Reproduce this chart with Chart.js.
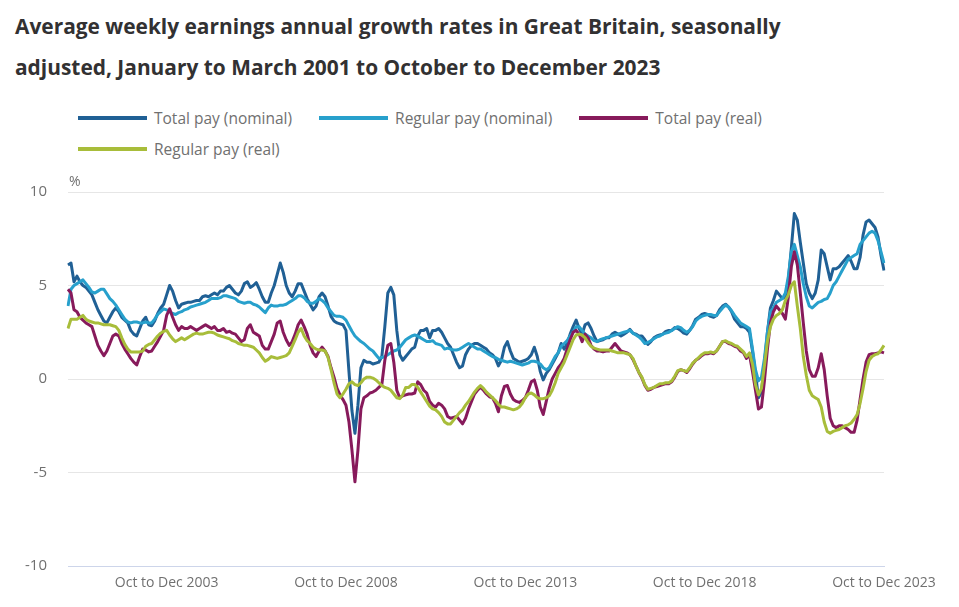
<!DOCTYPE html>
<html>
<head>
<meta charset="utf-8">
<title>Average weekly earnings annual growth rates</title>
<script src="https://cdn.jsdelivr.net/npm/chart.js@4.4.1/dist/chart.umd.min.js"></script>
<style>
    html, body { margin: 0; padding: 0; background: #fff; }
    body { width: 959px; height: 607px; position: relative; overflow: hidden; font-family: "Open Sans", sans-serif; }
    .title { position: absolute; left: 15px; top: 6px; font-size: 20.9px; font-weight: 700; line-height: 41px; color: #323132; white-space: nowrap; }
    .legend { position: absolute; left: 78px; top: 102px; width: 880px; display: flex; flex-wrap: wrap; column-gap: 27px; }
    .legend__item { display: flex; align-items: center; height: 31px; font-size: 15.5px; color: #707070; white-space: nowrap; }
    .legend__swatch { display: inline-block; width: 69px; height: 4px; margin-right: 7px; }
    .chart-box { position: absolute; left: 0; top: 170px; width: 959px; height: 437px; }
</style>
</head>
<body>
<div class="title">Average weekly earnings annual growth rates in Great Britain, seasonally<br>adjusted, January to March 2001 to October to December 2023</div>
<div class="legend" id="legend-container"></div>
<div class="chart-box"><canvas id="line-chart" width="959" height="437"></canvas></div>

<script>
// rolling three-month periods, first one is Jan to Mar 2001
const monthNames = ["Jan", "Feb", "Mar", "Apr", "May", "Jun", "Jul", "Aug", "Sep", "Oct", "Nov", "Dec"];
const firstYear = 2001;
const periodCount = 274;

const tickLabels = ["Oct to Dec 2003", "Oct to Dec 2008", "Oct to Dec 2013", "Oct to Dec 2018", "Oct to Dec 2023"];
const yTicks = [-10, -5, 0, 5, 10];

const seriesNames = ["Total pay (nominal)", "Regular pay (nominal)", "Total pay (real)", "Regular pay (real)"];

const totalNominal = [
    6.1, 6.2, 5.2, 5.5, 5.2, 5.0, 4.9, 4.7, 4.5, 4.1, 3.7, 3.4, 3.1, 3.0, 3.3, 3.6, 3.8, 3.6, 3.3, 3.15, 3.0, 2.6, 2.4, 2.3,
    2.7, 3.1, 3.3, 2.9, 2.85, 3.1, 3.5, 3.8, 4.0, 4.5, 5.0, 4.7, 4.2, 3.8, 4.0, 4.05, 4.1, 4.1, 4.15, 4.2, 4.2, 4.4, 4.45, 4.4,
    4.5, 4.6, 4.5, 4.7, 4.7, 4.9, 5.0, 4.8, 4.6, 4.5, 4.7, 5.1, 5.2, 4.9, 5.0, 5.15, 4.8, 4.4, 4.1, 4.1, 4.6, 5.0, 5.6, 6.2,
    5.7, 5.0, 4.6, 4.4, 4.7,
    5.1, 5.1, 4.7, 4.3, 4.0, 3.7, 3.9, 4.4, 4.6, 4.4, 3.9, 3.35, 3.1, 3.0, 2.95, 2.9, 2.6, 0.4, -1.7, -2.9, -1.4, 0.6, 1.0, 0.9,
    0.9, 0.8, 0.85, 0.9, 1.2, 2.8, 4.6,
    4.9, 4.5, 2.6, 1.3, 1.0, 1.2, 1.4, 1.6, 1.7, 2.3, 2.6, 2.6, 2.7, 2.2, 2.6, 2.6, 2.7, 2.5, 2.2, 1.9, 1.7, 1.3, 0.9, 0.6,
    0.7, 1.3, 1.6, 1.8, 1.9, 1.9,
    1.8, 1.7, 1.6, 1.4, 1.3, 1.1, 0.7, 1.0, 1.7, 2.0, 1.5, 1.1, 1.0, 0.9, 0.95, 1.0, 1.1, 1.3, 1.7, 1.2, 0.4, -0.05, 0.3, 0.5,
    0.8, 1.1, 1.4, 1.9, 1.6, 1.9, 2.4, 2.8, 3.15, 2.7, 2.4, 2.9, 3.0, 2.7, 2.3, 2.0, 2.05, 2.1, 2.2, 2.2, 2.4, 2.5, 2.4, 2.3,
    2.4, 2.5, 2.65, 2.45, 2.4, 2.3,
    2.3, 2.1, 1.85, 2.0, 2.2, 2.3, 2.35, 2.4, 2.55, 2.6, 2.6, 2.75, 2.7, 2.6, 2.45, 2.4, 2.6, 2.85, 3.2, 3.3, 3.45, 3.5, 3.45, 3.35,
    3.3, 3.4, 3.7, 3.9, 4.0, 3.85, 3.6, 3.2, 3.0, 2.8, 2.8, 2.7,
    2.5, 1.5, 0.3, -1.0, -0.7, 0.8, 2.5, 3.8, 4.2, 4.7, 4.5, 4.3, 4.4, 5.3, 7.0, 8.85, 8.5, 7.3, 6.2, 5.1, 4.6, 4.3, 4.6, 5.3,
    6.9, 6.7, 6.0, 5.3, 5.9, 5.9, 6.0, 6.2, 6.4, 6.6, 6.3, 5.9, 5.9, 6.5, 7.7, 8.4, 8.5, 8.3, 8.1, 7.6, 6.6, 5.8
];

const regularNominal = [
    3.9, 4.8, 5.0, 5.1, 5.2, 5.3, 5.1, 4.9, 4.65, 4.6, 4.7, 4.8, 4.8, 4.55, 4.3, 4.15, 3.95, 3.7, 3.45, 3.2, 3.05, 3.0, 3.05, 3.05,
    3.0, 3.0, 3.05, 3.0, 3.0, 3.2, 3.45, 3.6, 3.75, 3.7, 3.6, 3.5, 3.45, 3.55, 3.6, 3.7, 3.75, 3.85, 3.9, 3.95, 4.0, 4.05, 4.1, 4.2,
    4.3, 4.3, 4.3, 4.35, 4.45, 4.45, 4.4, 4.35, 4.3, 4.15, 4.1, 4.05, 4.1, 4.1, 4.0, 3.95, 3.85, 3.7, 3.55, 3.8, 3.95, 3.9, 3.9, 3.95,
    3.95, 4.0, 4.1, 4.2, 4.3,
    4.45, 4.45, 4.35, 4.15, 4.05, 4.05, 4.15, 4.3, 4.2, 4.05, 3.8, 3.6, 3.4, 3.35, 3.35, 3.3, 3.15, 2.85, 2.55, 2.3, 2.15, 2.0, 1.9, 1.75,
    1.6, 1.5, 1.3, 1.1, 1.15, 1.2, 1.3,
    1.4, 1.5, 1.55, 1.7, 1.9, 2.1, 2.2, 2.3, 2.35, 2.3, 2.2, 2.1, 2.0, 2.0, 2.05, 1.9, 1.85, 1.8, 1.6, 1.65, 1.6, 1.55, 1.55, 1.6,
    1.7, 1.8, 1.9, 1.8, 1.7, 1.6,
    1.6, 1.5, 1.4, 1.3, 1.2, 1.15, 1.05, 1.0, 0.95, 0.9, 0.95, 0.9, 0.85, 0.8, 0.75, 0.8, 0.85, 0.95, 0.95, 0.9, 0.8, 0.6, 0.5, 0.6,
    0.9, 1.2, 1.4, 1.75, 1.9, 2.05, 2.3, 2.5, 2.8, 2.8, 2.6, 2.4, 2.3, 2.2, 2.05, 2.0, 2.1, 2.15, 2.2, 2.25, 2.3, 2.35, 2.4, 2.45,
    2.5, 2.55, 2.6, 2.45, 2.35, 2.25,
    2.1, 1.9, 1.95, 2.05, 2.15, 2.25, 2.3, 2.4, 2.45, 2.5, 2.6, 2.7, 2.8, 2.75, 2.6, 2.5, 2.6, 2.8, 3.1, 3.25, 3.35, 3.4, 3.45, 3.45,
    3.4, 3.4, 3.6, 3.8, 3.95, 3.85, 3.65, 3.4, 3.2, 3.0, 2.9, 2.8,
    2.7, 1.6, 0.5, -0.1, 0.1, 1.1, 2.5, 3.6, 3.8, 4.1, 4.2, 4.3, 4.6, 5.5, 6.8, 7.2, 6.6, 6.0, 5.1, 4.4, 3.9, 3.8, 3.95, 4.1,
    4.15, 4.25, 4.3, 4.6, 5.0, 5.2, 5.5, 5.8, 6.1, 6.4, 6.5, 6.6, 6.7, 7.2, 7.4, 7.6, 7.8, 7.9, 7.8, 7.4, 6.8, 6.2
];

const totalReal = [
    4.8, 4.6, 3.7, 3.6, 3.3, 3.15, 3.0, 2.9, 2.8, 2.3, 1.8, 1.5, 1.25, 1.5, 1.9, 2.3, 2.4, 2.3, 1.9, 1.6, 1.35, 1.1, 0.9, 0.75,
    1.2, 1.6, 1.55, 1.45, 1.5, 1.75, 2.0, 2.3, 2.6, 3.4, 3.75, 3.3, 2.9, 2.6, 2.8, 2.7, 2.7, 2.8, 2.7, 2.6, 2.7, 2.8, 2.9, 2.8,
    2.7, 2.8, 2.6, 2.6, 2.7, 2.5, 2.55, 2.45, 2.4, 2.2, 2.0, 2.1, 2.7, 2.9, 2.5, 2.4, 2.3, 1.8, 1.6, 1.6, 2.0, 2.4, 3.0, 3.1,
    2.5, 2.1, 1.8, 2.0, 2.4,
    2.9, 3.15, 2.8, 2.4, 1.8, 1.4, 1.2, 1.5, 1.7, 1.5, 1.2, 0.6, 0.1, -0.5, -0.85, -1.1,
    -1.4, -2.3, -3.8, -5.5, -3.8, -1.6, -1.0, -0.9, -0.75, -0.7, -0.6, -0.45, -0.3, 1.0, 1.8, 1.9, 0.9, -0.6, -1.0, -0.9, -0.85, -0.8, -0.8, -0.75,
    -0.15, -0.3, -0.6, -0.75, -1.2, -1.4, -1.5, -1.3, -1.4, -1.6, -2.0, -2.1, -2.05, -2.0, -2.2, -2.4, -2.1, -1.6, -1.2, -0.8, -0.6,
    -0.45, -0.6, -0.8, -0.95, -1.0, -1.3, -1.75, -0.9, -0.4, -0.35, -0.8, -1.1, -1.2, -1.25, -1.15, -1.0, -0.6, -0.15, -0.05, -0.6, -1.5, -1.9, -1.2, -0.5,
    0.0, 0.3, 0.6, 0.8, 1.1, 1.6, 2.1, 2.5, 2.6, 2.4, 2.0, 2.4, 2.2, 1.8, 1.6, 1.5, 1.5, 1.45, 1.5, 1.5, 1.7, 1.9, 1.7, 1.5,
    1.45, 1.4, 1.3, 1.05, 0.7, 0.35,
    0.05, -0.35, -0.6, -0.55, -0.45, -0.4, -0.35, -0.3, -0.25, -0.25, -0.15, 0.1, 0.4, 0.5, 0.45, 0.35, 0.55, 0.8, 1.0, 1.1, 1.25, 1.35, 1.35, 1.4,
    1.35, 1.5, 1.75, 2.0, 2.0, 1.9, 1.85, 1.75, 1.7, 1.5, 1.4, 1.1,
    1.3, 0.4, -0.6, -1.6, -1.5, -0.1, 1.6, 3.0, 3.6, 3.9, 3.7, 3.5, 3.2, 4.4, 6.0, 6.8, 6.1, 4.6, 3.0, 1.5, 0.5, 0.15, 0.15, 0.6,
    1.35, 0.5, -0.9, -2.1, -2.5, -2.6, -2.5, -2.5, -2.6, -2.7, -2.85, -2.85, -2.2, -1.1, 0.0, 0.9, 1.3, 1.35, 1.35, 1.4, 1.45, 1.4
];

const regularReal = [
    2.7, 3.2, 3.2, 3.2, 3.3, 3.4, 3.2, 3.1, 3.05, 3.0, 3.0, 2.95, 2.9, 2.9, 2.9, 2.85, 2.8, 2.6, 2.2, 1.85, 1.6, 1.45, 1.45, 1.45,
    1.45, 1.5, 1.75, 1.85, 1.9, 2.1, 2.3, 2.45, 2.55, 2.6, 2.35, 2.15, 2.0, 2.1, 2.2, 2.1, 2.2, 2.3, 2.4, 2.45, 2.4, 2.4, 2.45, 2.5,
    2.5, 2.45, 2.35, 2.3, 2.25, 2.2, 2.15, 2.05, 2.0, 1.9, 1.85, 1.8, 1.8, 1.75, 1.7, 1.55, 1.4, 1.15, 0.95, 1.05, 1.2, 1.15, 1.1, 1.15,
    1.2, 1.25, 1.4, 1.75, 2.1, 2.5, 2.7, 2.3, 2.05, 1.9, 1.7, 1.6, 1.55, 1.55,
    1.5, 1.15, 0.5, -0.2, -0.8, -1.0, -0.8, -0.55, -0.25, -0.15, -0.3, -0.35, -0.2, 0.0, 0.1, 0.1, 0.05, -0.05, -0.2, -0.35, -0.45, -0.5, -0.6, -0.8,
    -1.0, -1.05, -0.85, -0.45, -0.45, -0.3, -0.3, -0.45, -0.7, -0.95, -1.2, -1.45, -1.6, -1.65, -1.8, -2.0, -2.3, -2.4, -2.4, -2.2, -2.0, -1.8, -1.65, -1.4,
    -1.2, -0.95, -0.7, -0.5,
    -0.35, -0.5, -0.7, -0.85, -1.0, -1.15, -1.35, -1.5, -1.5, -1.55, -1.6, -1.65, -1.6, -1.5, -1.3, -1.0, -0.8, -0.75, -0.85, -1.0, -1.05, -1.05, -1.0, -0.9,
    -0.6, -0.2, 0.3, 0.6, 0.9, 1.3, 1.7, 2.1, 2.35, 2.4, 2.35, 2.2, 1.95, 1.75, 1.65, 1.6, 1.55, 1.55, 1.55, 1.55, 1.5, 1.45, 1.4, 1.4,
    1.4, 1.35, 1.3, 1.1, 0.7, 0.35,
    0.1, -0.3, -0.55, -0.5, -0.45, -0.35, -0.25, -0.25, -0.2, -0.2, -0.1, 0.15, 0.45, 0.5, 0.45, 0.4, 0.6, 0.85, 1.0, 1.15, 1.3, 1.4, 1.4, 1.45,
    1.4, 1.5, 1.75, 2.0, 2.05, 1.95, 1.9, 1.8, 1.75, 1.6, 1.45, 1.2,
    1.4, 0.8, -0.3, -0.85, -0.5, 0.7, 2.0, 2.8, 3.2, 3.4, 3.5, 3.7, 4.2, 4.5, 5.0, 5.2, 3.9, 2.7, 1.2, 0.2, -0.6, -0.9, -1.0, -1.1,
    -1.5, -2.3, -2.8, -2.9, -2.8, -2.75, -2.7, -2.6, -2.5, -2.45, -2.35, -2.15, -1.9, -1.3, -0.5, 0.4, 1.0, 1.2, 1.3, 1.35, 1.55, 1.8
];

const seriesColors = ["#206095", "#27a0cc", "#871a5b", "#a8bd3a"];
const textGrey = "#707070";
const gridGrey = "#e6e6e6";
const axisBlue = "#cdd5ea";

document.addEventListener("DOMContentLoaded", function () {
    // period labels, e.g. "Oct to Dec 2003"
    const categories = [];
    for (let i = 0; i < periodCount; i++) {
        const start = i % 12;
        const end = (i + 2) % 12;
        const year = firstYear + Math.floor((i + 2) / 12);
        categories.push(`${monthNames[start]} to ${monthNames[end]} ${year}`);
    }

    const seriesData = [totalNominal, regularNominal, totalReal, regularReal];

    //legend
    const legend = document.getElementById("legend-container");
    seriesNames.forEach((name, index) => {
        const item = document.createElement("div");
        item.className = "legend__item";
        const swatch = document.createElement("span");
        swatch.className = "legend__swatch";
        swatch.style.backgroundColor = seriesColors[index];
        item.appendChild(swatch);
        item.appendChild(document.createTextNode(name));
        legend.appendChild(item);
    });

    // "%" unit above the y axis
    const unitLabel = {
        id: "unitLabel",
        afterDraw(chart) {
            const { ctx, chartArea } = chart;
            ctx.save();
            ctx.font = "14px 'Open Sans'";
            ctx.fillStyle = textGrey;
            ctx.textAlign = "left";
            ctx.textBaseline = "middle";
            ctx.fillText("%", chartArea.left + 1, chartArea.top - 10);
            ctx.restore();
        },
    };

    const datasets = seriesNames.map((name, index) => ({
        label: name,
        data: seriesData[index],
        borderColor: seriesColors[index],
        backgroundColor: seriesColors[index],
        borderWidth: 3,
        pointRadius: 0,
        tension: 0,
        fill: false,
        borderJoinStyle: "round",
        order: seriesNames.length - index,
    }));

    new Chart(document.getElementById("line-chart"), {
        type: "line",
        data: { labels: categories, datasets: datasets },
        options: {
            responsive: false,
            animation: false,
            layout: { padding: { top: 22, right: 75, left: 0, bottom: 0 } },
            plugins: {
                legend: { display: false },
                tooltip: { enabled: false },
            },
            scales: {
                x: {
                    type: "category",
                    afterFit: (scale) => { scale.height = 41; },
                    border: { display: true, color: axisBlue, width: 1 },
                    grid: {
                        drawOnChartArea: false,
                        drawTicks: true,
                        tickLength: 6,
                        color: (ctx) => (tickLabels.includes(categories[ctx.index]) ? axisBlue : "transparent"),
                    },
                    ticks: {
                        autoSkip: false,
                        maxRotation: 0,
                        padding: 3,
                        color: textGrey,
                        font: { family: "'Open Sans'", size: 14 },
                        callback: function (value) {
                            const label = this.getLabelForValue(value);
                            return tickLabels.includes(label) ? label : null;
                        },
                    },
                },
                y: {
                    min: yTicks[0],
                    max: yTicks[yTicks.length - 1],
                    afterFit: (scale) => {
                        scale.width = 68;
                        // the label padding should not push the plot down
                        scale.paddingTop = 0;
                        scale.paddingBottom = 0;
                    },
                    afterBuildTicks: (scale) => { scale.ticks = yTicks.map((v) => ({ value: v })); },
                    border: { display: false },
                    grid: {
                        drawTicks: false,
                        color: (ctx) => (ctx.tick && ctx.tick.value === yTicks[0] ? axisBlue : gridGrey),
                    },
                    ticks: {
                        padding: 21,
                        color: textGrey,
                        font: { family: "'Open Sans'", size: 15 },
                    },
                },
            },
        },
        plugins: [unitLabel],
    });
});
</script>
</body>
</html>
